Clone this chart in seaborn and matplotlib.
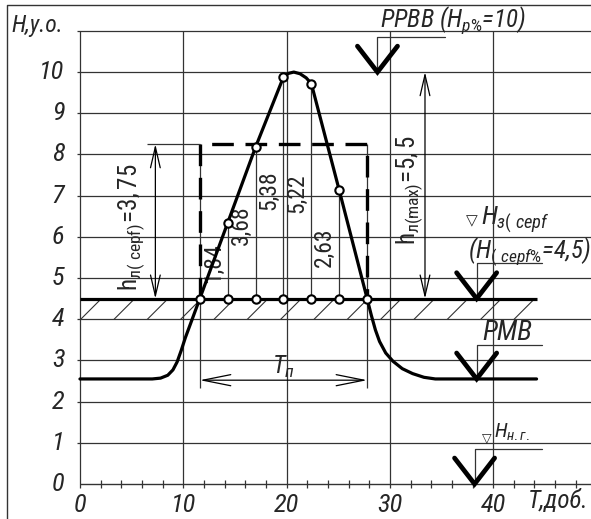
import matplotlib
matplotlib.use("Agg")
import matplotlib.pyplot as plt
from matplotlib import font_manager
import seaborn as sns

# ── дані ─────────────────────────────────────
# профіль рівня води (T, діб -> H, у.о.)
profile_t = [0, 7.0, 7.8, 8.5, 9.0, 9.4, 9.8, 10.2, 11.6, 14.3, 17.0, 19.7, 20.2, 20.7,
             21.3, 21.9, 22.4, 25.1, 27.8, 28.2, 28.6, 29.0, 29.6, 30.3, 31.2, 32.2,
             33.3, 34.4, 44.2]
profile_h = [2.55, 2.55, 2.57, 2.64, 2.77, 2.96, 3.24, 3.55, 4.5, 6.34, 8.18, 9.88,
             9.97, 10.0, 9.96, 9.86, 9.72, 7.13, 4.5, 4.1, 3.74, 3.46, 3.18, 2.98,
             2.8, 2.68, 2.59, 2.55, 2.55]

# точки (станції) на кривій та на рівні H з(серf)
station_t = [11.6, 14.3, 17.0, 19.7, 22.4, 25.1, 27.8]
station_h = [4.5, 6.34, 8.18, 9.88, 9.72, 7.13, 4.5]
base_level = 4.5
depth_labels = ["1,84", "3,68", "5,38", "5,22", "2,63"]

x_ticks = [0, 10, 20, 30, 40]
y_ticks = [0, 1, 2, 3, 4, 5, 6, 7, 8, 9, 10]
x_minor = [2, 4, 6, 8, 12, 14, 16, 18, 22, 24, 26, 28, 32, 34, 36, 38, 42, 44, 46, 48]

rect_top = 8.25          # прямокутник (штрихова лінія)
rmv_level = 2.55         # РМВ
rrvv_level = 10.0        # РРВВ
hng_level = 0.0          # H н.г.


# ── шрифти (вузький курсив, як у кресленні) ──
def pick_narrow():
    entries = font_manager.fontManager.ttflist
    names = {f.name for f in entries}
    for n in ["Liberation Sans Narrow", "Arial Narrow", "Roboto Condensed",
              "Open Sans Condensed", "Noto Sans Condensed", "DejaVu Sans Condensed"]:
        if n in names:
            return n, "normal", 1.0
    for fam in ["DejaVu Sans", "Noto Sans", "Open Sans", "Roboto"]:
        for f in entries:
            if f.name == fam and "condensed" in str(f.stretch) and f.style == "italic":
                return fam, "condensed", 0.95
    return "Liberation Sans", "normal", 0.86


sns.set_style("white")
NARROW, STRETCH, K = pick_narrow()
plt.rcParams["font.family"] = [NARROW, "DejaVu Sans"]
plt.rcParams["font.stretch"] = STRETCH
plt.rcParams["mathtext.fontset"] = "custom"
plt.rcParams["mathtext.rm"] = f"{NARROW}:stretch={STRETCH}"
plt.rcParams["mathtext.it"] = f"{NARROW}:style=italic:stretch={STRETCH}"
plt.rcParams["mathtext.bf"] = f"{NARROW}:weight=bold:stretch={STRETCH}"
plt.rcParams["mathtext.sf"] = f"{NARROW}:stretch={STRETCH}"
plt.rcParams["hatch.linewidth"] = 0.8

fig = plt.figure(figsize=(5.91, 5.19), dpi=100)
ax = fig.add_axes([0, 0, 1, 1])
ax.set_xlim(-7.74, 49.47)
ax.set_ylim(-0.85, 11.75)
ax.axis("off")

GRID = "#333333"
# рамка
ax.plot([-7.07, -7.07, 49.47], [-0.85, 11.62, 11.62], color=GRID, lw=1.0)

# сітка
ax.vlines(x_ticks, -0.1, 11, color=GRID, lw=0.9)
ax.hlines(y_ticks[1:] + [11], -0.3, 49.47, color=GRID, lw=0.9)
ax.hlines(0, 0, 49.47, color=GRID, lw=1.0)
ax.vlines(x_minor, -0.1, 0.1, color=GRID, lw=0.9)

for v in x_ticks:
    ax.text(v, -0.5, str(v), ha="center", va="center", fontsize=19 * K, style="italic")
for v in y_ticks:
    ax.text(-1.5, v, str(v), ha="right", va="center", fontsize=19 * K, style="italic")
ax.text(-6.6, 11.14, "H,у.о.", ha="left", va="center", fontsize=17 * K, style="italic")
ax.text(43.4, -0.42, "T,доб.", ha="left", va="center", fontsize=18 * K, style="italic")

# штриховка під рівнем H з(серf)
ax.fill_between([0, 44.0], 4.0, base_level, facecolor="none", edgecolor=GRID,
                hatch="/", lw=0)
ax.hlines(base_level, 0, 44.2, color="black", lw=2.3)

# вертикалі станцій
ax.vlines(station_t[1:-1], base_level, station_h[1:-1], color=GRID, lw=0.9)
ax.vlines([station_t[0], station_t[-1]], 2.33, rect_top, color=GRID, lw=0.9)

# штриховий прямокутник
ax.plot([station_t[0], station_t[0], station_t[-1], station_t[-1]],
        [base_level, rect_top, rect_top, base_level],
        color="black", lw=2.4, dashes=(6.5, 3.5))

# крива рівня
sns.lineplot(x=profile_t, y=profile_h, sort=False, estimator=None,
             color="black", lw=2.3, ax=ax, zorder=4)

# точки
pts_t = station_t[1:-1] + station_t
pts_h = station_h[1:-1] + [base_level] * len(station_t)
sns.scatterplot(x=pts_t, y=pts_h, s=36, color="white", edgecolor="black",
                linewidth=1.5, ax=ax, zorder=5, legend=False)

# підписи глибин
label_y = [5.36, 6.29, 7.13, 7.06, 5.75]
for t, lab, ly in zip(station_t[1:-1], depth_labels, label_y):
    ax.text(t - 1.4, ly, lab, rotation=90, ha="center", va="center",
            fontsize=17 * K)

# розмірні лінії
arrow = dict(arrowstyle="<->,head_length=1.5,head_width=0.35", color="black",
             lw=0.9, shrinkA=0, shrinkB=0)
ax.hlines(rect_top, 6.5, station_t[0], color=GRID, lw=0.9)
ax.annotate("", xy=(7.3, base_level), xytext=(7.3, rect_top), arrowprops=arrow)
ax.annotate("", xy=(33.4, base_level), xytext=(33.4, rrvv_level), arrowprops=arrow)
ax.annotate("", xy=(station_t[0], 2.52), xytext=(station_t[-1], 2.52),
            arrowprops=dict(arrow, arrowstyle="<->,head_length=2.0,head_width=0.4"))
ax.text(5.0, 6.24, r"$\mathregular{h_{л(\ cepf)}\!=\!3,75}$", rotation=90,
        ha="center", va="center", fontsize=18 * K)
ax.text(31.9, 7.14, r"$\mathregular{h_{л(max)}\!=\!5,5}$", rotation=90,
        ha="center", va="center", fontsize=18 * K)
ax.text(18.6, 2.85, r"$T_{п}$", ha="left", va="center", fontsize=18 * K)


# позначки рівнів
def level_mark(tip_x, tip_y, stem_top, leader_end):
    ax.plot([tip_x - 1.94, tip_x, tip_x + 1.94],
            [tip_y + 0.63, tip_y, tip_y + 0.63], color="black", lw=3.4,
            solid_joinstyle="miter", zorder=6)
    ax.plot([tip_x, tip_x, leader_end], [tip_y, stem_top, stem_top],
            color=GRID, lw=0.9)


level_mark(28.8, rrvv_level, 10.85, 35.3)
level_mark(38.4, base_level, 5.36, 44.7)
level_mark(38.4, rmv_level, 3.37, 44.7)
level_mark(38.2, hng_level, 0.85, 44.7)

TRI = ["DejaVu Sans"]
ax.text(29.0, 11.27, r"РРВВ ($H_{р\%}$=10)", ha="left", va="center",
        fontsize=18 * K, style="italic")
ax.text(37.4, 6.38, "▽", ha="left", va="center", fontsize=11, family=TRI)
ax.text(38.8, 6.41, r"$H_{з(\ cepf}$", ha="left", va="center",
        fontsize=19 * K, style="italic")
ax.text(37.6, 5.63, r"($H_{(\ cepf\%}$=4,5)", ha="left", va="center",
        fontsize=18 * K, style="italic")
ax.text(39.0, 3.67, "РМВ", ha="left", va="center", fontsize=20 * K, style="italic")
ax.text(38.9, 1.1, "▽", ha="left", va="center", fontsize=9, family=TRI)
ax.text(40.1, 1.25, r"$H_{н.г.}$", ha="left", va="center", fontsize=15 * K,
        style="italic")

fig.savefig("out.png", dpi=100)
